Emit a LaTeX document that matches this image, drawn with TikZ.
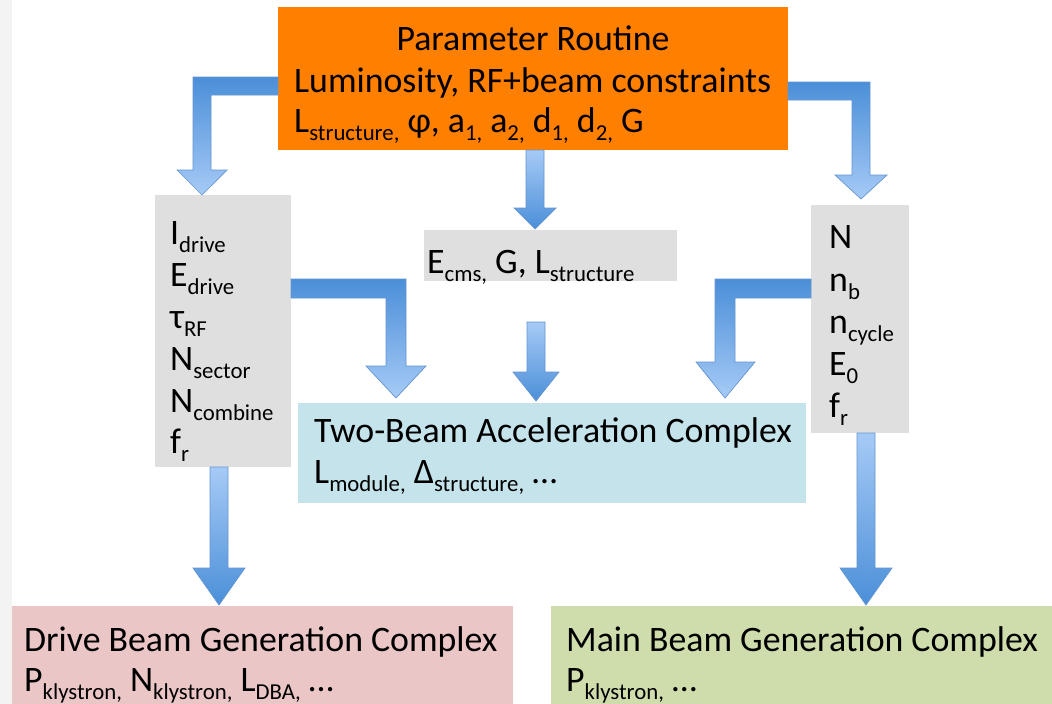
\documentclass[tikz,border=0pt]{standalone}
\usepackage{fontspec}
\setmainfont{Carlito}
\definecolor{orangebox}{RGB}{255,127,0}
\definecolor{graybox}{RGB}{223,223,223}
\definecolor{bluebox}{RGB}{196,227,235}
\definecolor{pinkbox}{RGB}{235,198,198}
\definecolor{greenbox}{RGB}{207,221,172}
\definecolor{stripgray}{RGB}{243,243,243}
\definecolor{arrdark}{RGB}{75,143,216}
\definecolor{arrlight}{RGB}{166,202,246}
\definecolor{arredge}{RGB}{100,150,210}
\newcommand\lo[1]{\raisebox{-8pt}{\fontsize{22.8}{22.8}\selectfont #1}}
\tikzset{
  box/.style={draw=none, inner sep=0pt, anchor=north west},
  txt/.style={inner sep=0pt, anchor=base west, font=\fontsize{35.8}{41}\selectfont},
  bentarrow/.style={top color=arrdark, bottom color=arrlight, draw=arredge, line width=0.7pt, line join=miter},
  downarrow/.style={top color=arrlight, bottom color=arrdark, draw=arredge, line width=0.7pt, line join=miter}
}
\begin{document}
\begin{tikzpicture}[x=1pt,y=-1pt]
\useasboundingbox (0,0) rectangle (1052,704);
\fill[white] (0,0) rectangle (1052,704);
\fill[stripgray] (0,0) rectangle (12,704);
% boxes
\node[box, fill=orangebox, minimum width=510, minimum height=143] (param) at (278,7) {};
\node[box, fill=graybox, minimum width=136, minimum height=272] (drivep) at (155,195) {};
\node[box, fill=graybox, minimum width=253, minimum height=51] (cms) at (424,230) {};
\node[box, fill=graybox, minimum width=98, minimum height=228] (mainp) at (811,205) {};
\node[box, fill=bluebox, minimum width=508, minimum height=100] (tba) at (298,403) {};
\node[box, fill=pinkbox, minimum width=501, minimum height=98] (dbg) at (12,606) {};
\node[box, fill=greenbox, minimum width=501, minimum height=98] (mbg) at (551,606) {};
% texts
\node[txt, anchor=base] (t1) at (533,50) {Parameter Routine};
\node[txt] (t2) at (294,92) {Luminosity, RF+beam constraints};
\node[txt] (t3) at (294,132) {L\lo{structure,} φ, a\lo{1,} a\lo{2,} d\lo{1,} d\lo{2,} G};
\node[txt] (l1) at (170,244) {I\lo{drive}};
\node[txt] (l2) at (170,286) {E\lo{drive}};
\node[txt] (l3) at (170,328) {τ\lo{RF}};
\node[txt] (l4) at (170,370) {N\lo{sector}};
\node[txt] (l5) at (170,412) {N\lo{combine}};
\node[txt] (l6) at (170,453) {f\lo{r}};
\node[txt] (c1) at (427,273) {E\lo{cms,} G, L\lo{structure}};
\node[txt] (r1) at (829,248) {N};
\node[txt] (r2) at (829,291) {n\lo{b}};
\node[txt] (r3) at (829,333) {n\lo{cycle}};
\node[txt] (r4) at (829,375) {E\lo{0}};
\node[txt] (r5) at (829,417) {f\lo{r}};
\node[txt] (b1) at (314,442) {Two-Beam Acceleration Complex};
\node[txt] (b2) at (314,483) {L\lo{module,} Δ\lo{structure,} …};
\node[txt] (d1) at (24,651) {Drive Beam Generation Complex};
\node[txt] (d2) at (24,691) {P\lo{klystron,} N\lo{klystron,} L\lo{DBA,} …};
\node[txt] (m1) at (566,651) {Main Beam Generation Complex};
\node[txt] (m2) at (566,691) {P\lo{klystron,} …};
% block arrows
\shadedraw[bentarrow] (278,77) -- (193,77) -- (193,170) -- (177,170) -- (202,195) -- (227,170) -- (211,170) -- (211,95) -- (278,95) -- cycle;
\shadedraw[bentarrow] (788,82) -- (870,82) -- (870,175) -- (887,175) -- (861,199) -- (835,175) -- (852,175) -- (852,100) -- (788,100) -- cycle;
\shadedraw[downarrow] (526,150) -- (544,150) -- (544,208) -- (556,208) -- (535,229) -- (514,208) -- (526,208) -- cycle;
\shadedraw[downarrow] (527,322) -- (545,322) -- (545,372) -- (559,372) -- (536,401) -- (513,372) -- (527,372) -- cycle;
\shadedraw[bentarrow] (291,279) -- (406,279) -- (406,366) -- (426,366) -- (396,398) -- (366,366) -- (386,366) -- (386,298) -- (291,298) -- cycle;
\shadedraw[bentarrow] (811,279) -- (715,279) -- (715,362) -- (696,362) -- (725,398) -- (755,362) -- (735,362) -- (735,298) -- (811,298) -- cycle;
\shadedraw[downarrow] (210,467) -- (228,467) -- (228,568) -- (245,568) -- (219,605) -- (193,568) -- (210,568) -- cycle;
\shadedraw[downarrow] (857,433) -- (875,433) -- (875,568) -- (892,568) -- (866,605) -- (840,568) -- (857,568) -- cycle;
\end{tikzpicture}
\end{document}
